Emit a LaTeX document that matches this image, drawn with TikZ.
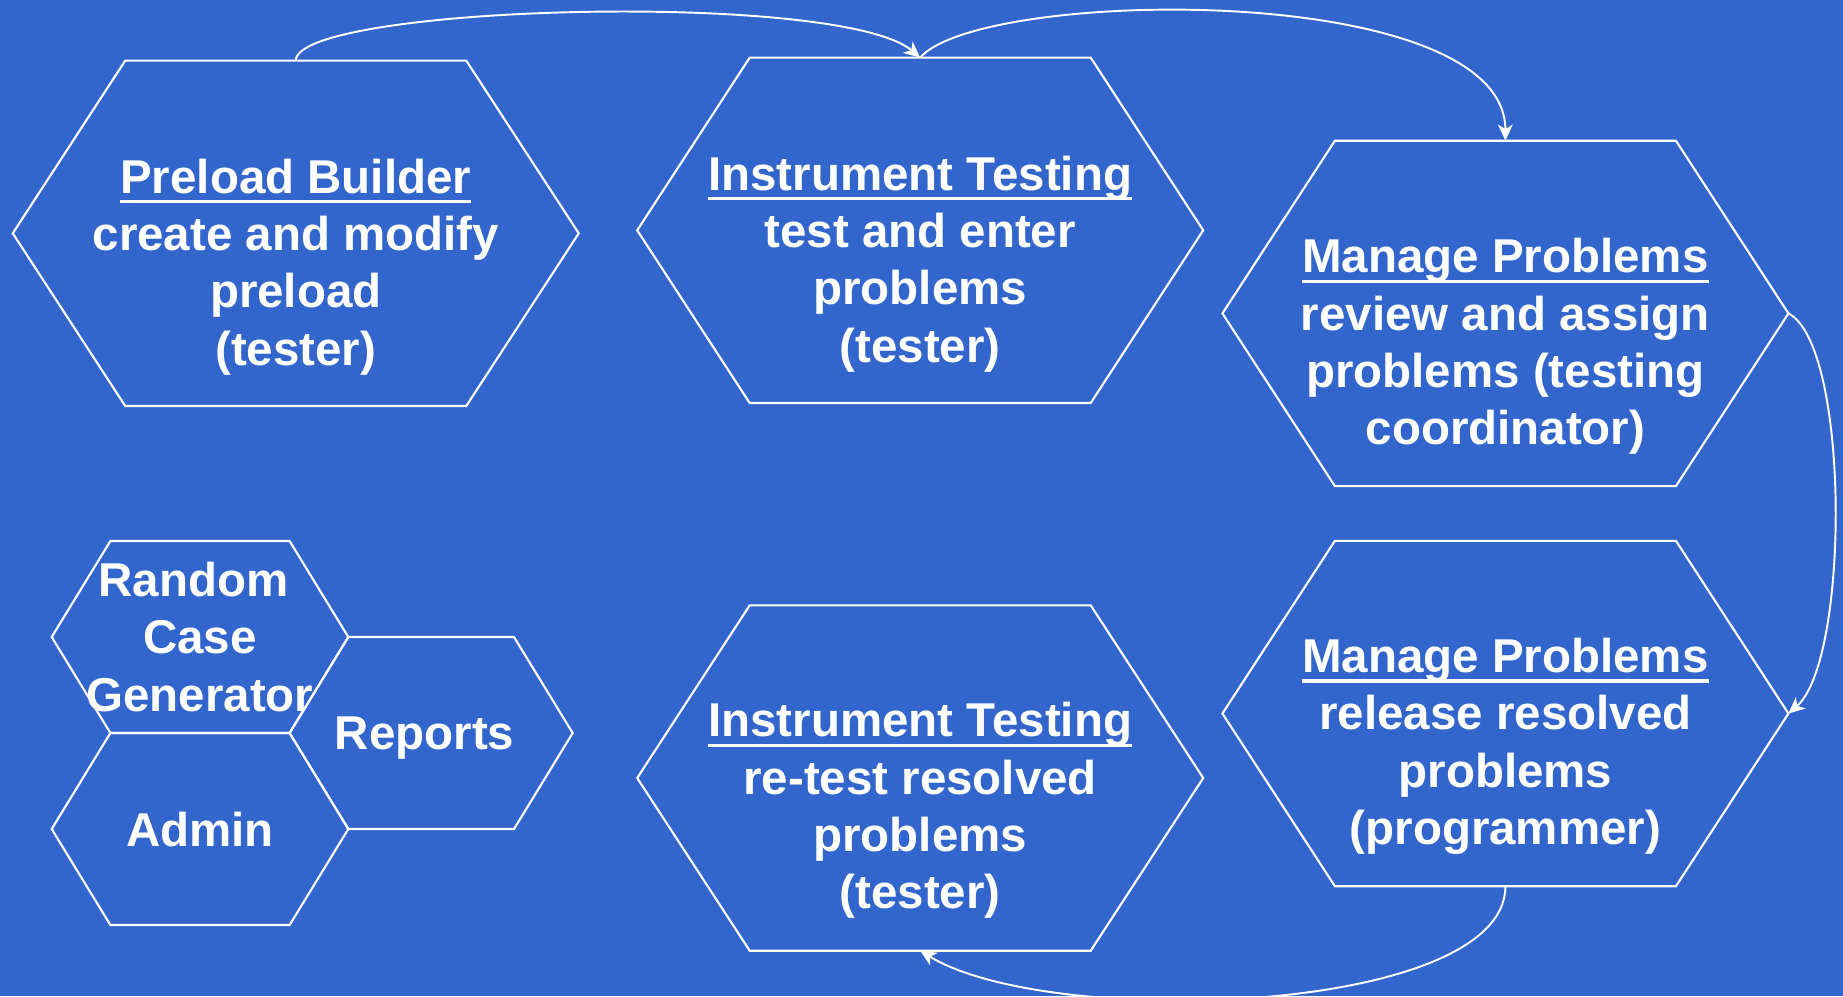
\documentclass[tikz,border=0pt]{standalone}
\usepackage{fontspec}
\setmainfont{Liberation Sans}
\usetikzlibrary{arrows.meta}
\definecolor{bgblue}{RGB}{51,102,204}
\newcommand\myul[1]{\setbox0\hbox{#1}\rlap{\rule[-2.9pt]{\wd0}{1pt}}\box0}
\newcommand\ts{\hspace*{.278em}}
% cx, cy, half width, half top edge, half height
\newcommand\hexagon[5]{%
  \draw[hexline] (#1-#3,#2) -- (#1-#4,#2-#5) -- (#1+#4,#2-#5) -- (#1+#3,#2)
    -- (#1+#4,#2+#5) -- (#1-#4,#2+#5) -- cycle;}
\begin{document}
\begin{tikzpicture}[x=0.01cm,y=-0.01cm,
  hexline/.style={draw=white,line width=0.6pt,line join=miter},
  lbl/.style={text=white,font=\fontsize{13.5pt}{16.3pt}\selectfont\bfseries,
    align=center,anchor=base,inner sep=0pt},
  flow/.style={draw=white,line width=0.55pt,
    -{Stealth[length=4.6pt,width=4.2pt,inset=1.3pt]}}]
\useasboundingbox (0,0) rectangle (1843,996);
\fill[bgblue] (0,0) rectangle (1843,996);
\clip (0,0) rectangle (1843,996);

% big hexagons
\hexagon{295.75}{233.3}{283}{170.5}{172.7}
\hexagon{920.2}{230.3}{283}{170.5}{172.7}
\hexagon{1505.4}{313.4}{283}{170.5}{172.7}
\hexagon{1505.4}{713.5}{283}{170.5}{172.7}
\hexagon{920.2}{778}{283}{170.5}{172.7}
% small hexagons
\hexagon{200}{637}{148.3}{89.6}{96}
\hexagon{200}{829}{148.3}{89.6}{96}
\hexagon{431.15}{733}{141.55}{82.85}{96}

% connection points
\coordinate (h1t) at (295.75,60.6);
\coordinate (h2t) at (920.2,57.6);
\coordinate (h3t) at (1505.4,140.7);
\coordinate (h3r) at (1788.4,313.4);
\coordinate (h4r) at (1788.4,713.5);
\coordinate (h4b) at (1505.4,886.2);
\coordinate (h5b) at (920.2,950.7);

% labels (anchor = baseline of last line)
\node[lbl] (preload) at (295.75,365) {\myul{Preload Builder}\\create and modify\\preload\ts\\(tester)};
\node[lbl] (inst1) at (920.2,362) {\myul{Instrument Testing}\\test and enter\ts\\problems\\(tester)};
\node[lbl] (mng1) at (1505.4,444.8) {\myul{Manage Problems}\\review and assign\ts\\problems (testing\ts\\coordinator)};
\node[lbl] (mng2) at (1505.4,844.6) {\myul{Manage Problems}\\release resolved\ts\\problems\\(programmer)};
\node[lbl] (inst2) at (920.2,908.8) {\myul{Instrument Testing}\\re-test resolved\\problems\\(tester)};
\node[lbl] (rcg) at (200,711) {Random\ts\\Case\ts\\Generator};
\node[lbl] (reports) at (431.15,749.7) {Reports\ts};
\node[lbl] (admin) at (200,846.3) {Admin};

% connectors
\draw[flow] (h1t) .. controls (296.6,5) and (840,-10) .. (h2t);
\draw[flow] (h2t) .. controls (980,-12) and (1505,-20) .. (h3t);
\draw[flow] (h3r) .. controls (1850,345) and (1850,660) .. (h4r);
\draw[flow] (h4b) .. controls (1505.4,1015) and (1050,1030) .. (h5b);
\end{tikzpicture}
\end{document}
